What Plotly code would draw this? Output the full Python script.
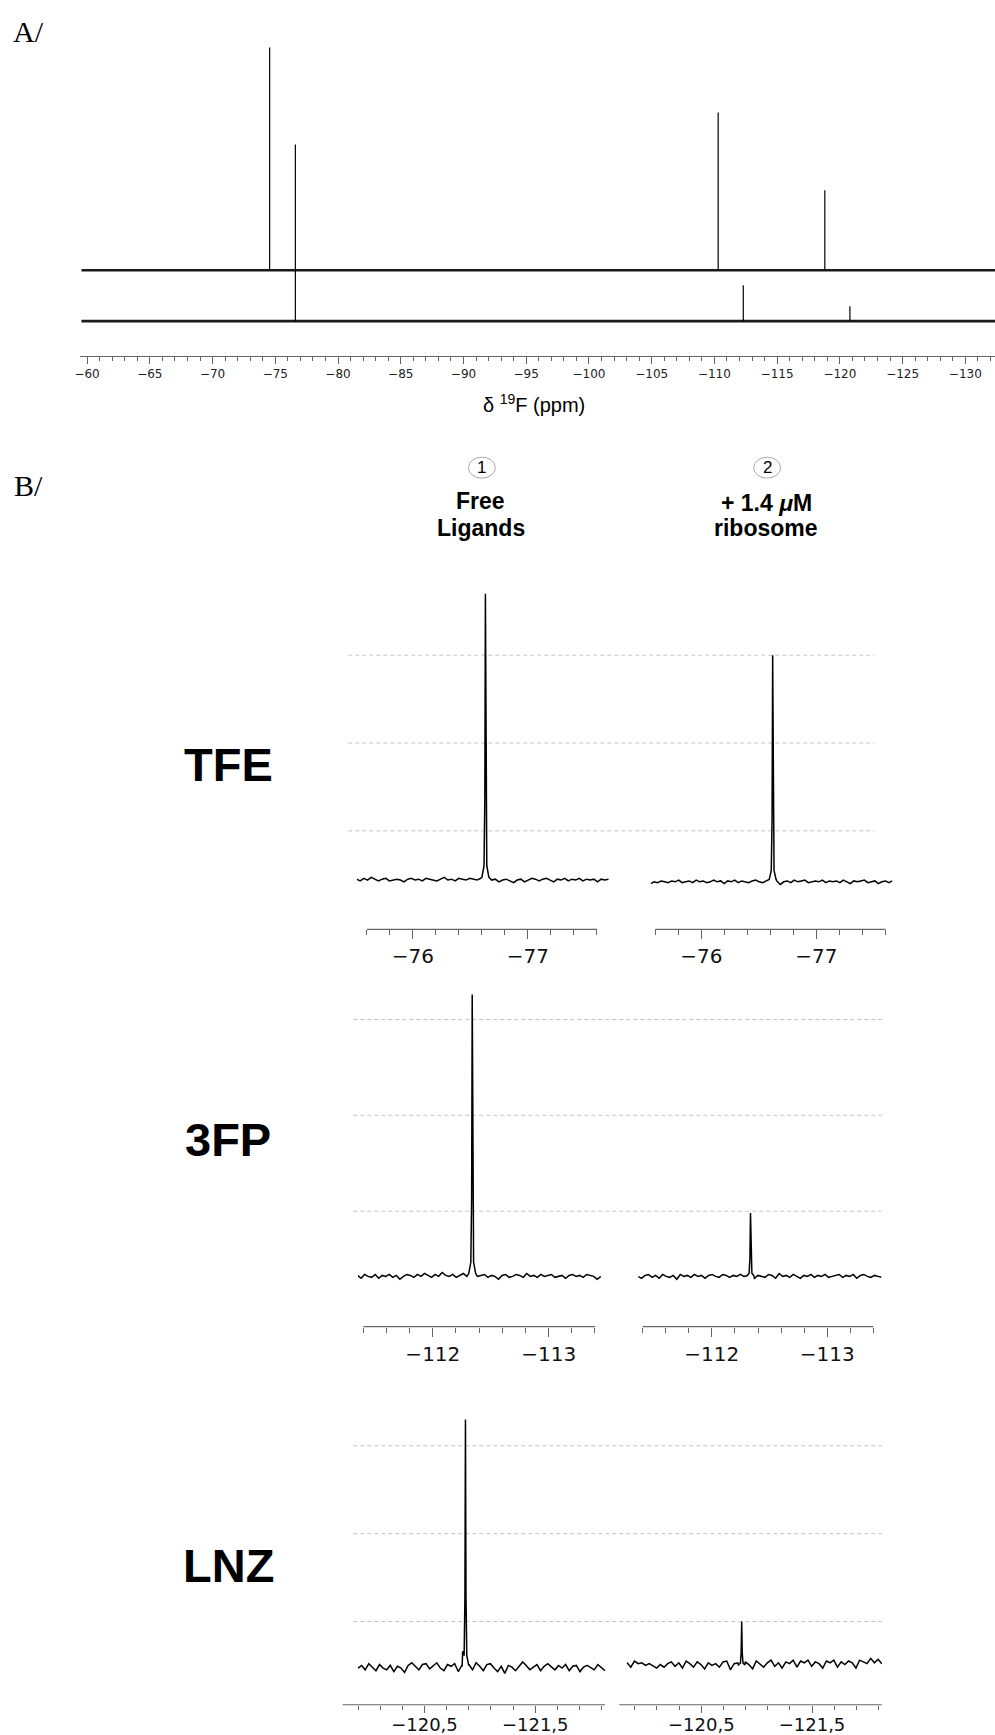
import numpy as np
import plotly.graph_objects as go

W, H = 995, 1735

# ======================= DATA =======================
# ---- Panel A: full 19F spectra (intensity in arbitrary units) ----
A_SPAN_PPM = [-59.55, -132.4]
A_TOP_BASE = 51
A_BOTTOM_BASE = 0
A_TOP_PEAK_PPM = [-74.55, -110.3, -118.8]
A_TOP_PEAK_INT = [223, 158, 80]
A_BOT_PEAK_PPM = [-76.6, -112.3, -120.8]
A_BOT_PEAK_INT = [177, 36, 15]
A_TICK_VALS = [-60, -65, -70, -75, -80, -85, -90, -95, -100, -105, -110, -115, -120, -125, -130]
A_TICK_TEXT = ["−60", "−65", "−70", "−75", "−80", "−85", "−90", "−95", "−100",
               "−105", "−110", "−115", "−120", "−125", "−130"]

# ---- Panel B: zoomed spectra, rows = ligands, cols = conditions ----
ROW_LABELS = ["TFE", "3FP", "LNZ"]
COL_NUMBERS = ["1", "2"]
COL_LINE1 = ["Free", "+ 1.4 <i>μ</i>M"]
COL_LINE2 = ["Ligands", "ribosome"]

PEAK_PPM = [[-76.63, -76.62], [-112.34, -112.335], [-120.87, -120.865]]
PEAK_INT = [[3.70, 3.00], [3.26, 0.98], [3.30, 1.00]]
BASE_INT = [[0.44, 0.42], [0.32, 0.32], [0.47, 0.50]]
SPAN_PPM = [[[-75.51, -77.70], [-75.56, -77.66]],
            [[-111.35, -113.45], [-111.36, -113.47]],
            [[-119.90, -122.13], [-119.83, -122.13]]]
SHOULDER_PPM = [[None, None], [None, None], [-120.845, None]]
SHOULDER_INT = [[None, None], [None, None], [0.66, None]]

TFE_TICKS = [-76, -77]
TFE_TICK_TEXT = ["−76", "−77"]
FP3_TICKS = [-112, -113]
FP3_TICK_TEXT = ["−112", "−113"]
LNZ_TICKS = [-120.5, -121.5]
LNZ_TICK_TEXT = ["−120,5", "−121,5"]
AXIS_SPAN_PPM = [[-75.6, -77.6], [-111.4, -113.4], [-119.76, -122.13]]
GRID_LEVELS = [1, 2, 3]

# line shape of a peak (offset in ppm, fraction of peak height)
SHAPE_DX = [-0.03, -0.012, -0.005, 0.0, 0.005, 0.012, 0.03]
SHAPE_FRAC = [0.01, 0.05, 0.28, 1.0, 0.28, 0.05, 0.01]

TFE_NOISE_FREE = [0.01, -0.01, 0.02, 0.00, 0.03, 0.01, -0.01, 0.01, 0.02, -0.01, 0.00, 0.01, 0.00, -0.02,
                  0.01, 0.02, 0.00, 0.01, -0.01, 0.02, 0.01, 0.00, -0.01, 0.01, 0.03, 0.00, 0.01, -0.01,
                  0.02, 0.01, 0.00, 0.02, 0.01, 0.00, 0.02, 0.01, -0.01, 0.00, 0.01, -0.02, 0.00, 0.01,
                  -0.01, -0.03, 0.00, 0.01, -0.02, 0.00, 0.02, 0.01, -0.01, 0.01, 0.02, 0.00, -0.02, 0.01,
                  0.00, 0.02, -0.01, 0.01, 0.00, 0.02, -0.01, 0.01, 0.00, 0.01, -0.02, 0.01, 0.00, 0.01]
TFE_NOISE_RIBO = [-0.02, 0.00, -0.01, 0.01, 0.00, -0.01, 0.01, 0.00, 0.02, -0.01, 0.00, 0.01, -0.01, 0.02,
                  0.00, 0.01, -0.01, 0.00, 0.02, 0.00, 0.01, -0.02, 0.01, 0.00, 0.02, -0.01, 0.01, 0.00,
                  -0.01, 0.01, 0.02, 0.00, -0.01, 0.01, 0.02, 0.00, 0.01, -0.03, 0.00, 0.01, -0.01, 0.02,
                  0.00, 0.01, 0.02, -0.01, 0.00, 0.01, 0.00, 0.02, -0.01, 0.01, 0.00, 0.01, -0.01, 0.02,
                  0.00, -0.02, 0.01, 0.00, 0.01, 0.02, -0.01, 0.00, 0.01, -0.02, 0.00, 0.01, -0.01, 0.01]
FP3_NOISE_FREE = [0.01, -0.02, 0.02, 0.00, -0.01, 0.02, -0.02, 0.01, 0.00, 0.02, -0.01, 0.01, -0.03, 0.00,
                  0.02, 0.01, -0.01, 0.02, 0.00, 0.03, 0.01, -0.01, 0.02, 0.00, 0.04, 0.01, 0.00, 0.02,
                  -0.01, 0.01, 0.03, 0.00, 0.02, -0.01, 0.00, 0.01, 0.02, -0.01, 0.01, 0.00, -0.03, 0.01,
                  0.02, -0.01, 0.00, 0.02, 0.01, -0.01, 0.03, 0.00, 0.01, -0.01, 0.02, 0.00, 0.01, 0.02,
                  -0.01, 0.00, 0.01, -0.02, 0.01, 0.02, 0.00, 0.01, -0.01, 0.02, 0.01, 0.00, -0.03, 0.00]
FP3_NOISE_RIBO = [0.00, -0.02, 0.01, 0.02, -0.01, 0.01, -0.02, 0.02, 0.00, -0.01, 0.01, -0.03, 0.02, 0.00,
                  0.01, -0.01, 0.02, 0.00, 0.01, -0.02, 0.01, 0.02, 0.00, -0.01, 0.02, 0.01, -0.01, 0.01,
                  0.00, 0.02, 0.00, -0.01, 0.02, -0.02, 0.01, 0.00, -0.01, 0.02, 0.01, -0.02, 0.03, 0.00,
                  0.01, -0.01, 0.02, 0.00, -0.02, 0.01, 0.00, 0.02, -0.01, 0.01, 0.00, 0.02, -0.01, 0.00,
                  0.01, 0.02, -0.01, 0.01, 0.00, 0.02, -0.02, 0.01, 0.02, 0.00, -0.01, 0.01, 0.00, -0.01]
LNZ_NOISE_FREE = [0.00, 0.03, -0.02, 0.05, 0.01, -0.03, 0.04, 0.00, -0.02, 0.03, -0.04, 0.02, 0.00, -0.05,
                  0.03, 0.06, 0.02, -0.02, 0.04, 0.05, -0.01, 0.03, 0.06, 0.00, -0.03, 0.04, 0.02, 0.05,
                  -0.04, 0.03, 0.01, 0.04, -0.02, 0.06, 0.02, -0.03, 0.04, 0.05, 0.00, -0.04, 0.02, -0.06,
                  0.03, 0.01, -0.03, 0.02, 0.07, 0.03, -0.02, 0.01, 0.04, -0.03, 0.02, 0.05, 0.01, -0.02,
                  0.03, 0.00, 0.04, -0.03, 0.02, 0.03, -0.04, 0.01, 0.03, 0.00, -0.02, 0.04, 0.01, -0.03]
LNZ_NOISE_RIBO = [0.03, -0.02, 0.05, 0.02, 0.03, 0.00, 0.02, -0.01, -0.03, 0.01, -0.02, 0.02, 0.04, -0.01,
                  0.03, -0.03, 0.05, 0.02, -0.02, 0.04, 0.01, -0.04, 0.03, 0.00, 0.02, -0.02, 0.04, 0.05,
                  -0.05, 0.02, 0.03, -0.03, 0.04, 0.01, -0.04, 0.05, 0.02, -0.02, 0.03, 0.06, -0.01, 0.03,
                  -0.03, 0.04, 0.02, 0.06, -0.02, 0.05, 0.03, 0.06, -0.01, 0.04, 0.02, -0.03, 0.05, 0.03,
                  0.06, -0.02, 0.04, 0.01, 0.05, 0.03, -0.03, 0.06, 0.04, 0.02, 0.08, 0.03, 0.07, 0.02]
NOISE = [[TFE_NOISE_FREE, TFE_NOISE_RIBO], [FP3_NOISE_FREE, FP3_NOISE_RIBO], [LNZ_NOISE_FREE, LNZ_NOISE_RIBO]]
ROW_TICKS = [(TFE_TICKS, TFE_TICK_TEXT), (FP3_TICKS, FP3_TICK_TEXT), (LNZ_TICKS, LNZ_TICK_TEXT)]

# ======================= GEOMETRY (pixels) =======================
# per panel: anchor tick ppm, its x pixel, pixels per ppm, domain left px, domain right px
PANEL_GEOM = [[(-76, 410.0, 115.6, 353.6, 607.0), (-76, 699.8, 115.7, 649.0, 892.0)],
              [(-112, 430.0, 116.4, 354.7, 599.0), (-112, 710.4, 116.0, 636.5, 881.0)],
              [(-120.5, 421.6, 111.3, 339.0, 603.5), (-120.5, 699.8, 111.3, 617.0, 881.6)]]
# per row: y px of grid level 1, px per unit, x-axis px, top px, grid x0, grid x1,
#          tick font size, major tick length, minor tick length, label standoff
ROW_GEOM = [(832.3, 88.0, 931.0, 570.0, 345.0, 874.0, 20, 9, 5, 0),
            (1213.3, 96.0, 1329.0, 985.0, 350.0, 881.0, 20, 9, 5, 0),
            (1624.3, 88.0, 1707.7, 1410.0, 350.0, 881.0, 18, 7, 4, -3)]
ROW_LABEL_Y = [766, 1141, 1568]
COL_X = [479.3, 766.0]


def fx(x):
    return x / W


def fy(y):
    return 1 - y / H


fig = go.Figure()
AX_COLOR = "#666666"

# ---------------- Panel A ----------------
A_LEFT_PX, A_REF_PX, A_PX_PER_PPM = 75.0, 82.5, 12.61
A_AXIS_PX, A_TOP_PX, A_BOTBASE_PX = 356.7, 25.0, 321.7
a_range = [-60 + (A_REF_PX - A_LEFT_PX) / A_PX_PER_PPM, -60 - (W - A_REF_PX) / A_PX_PER_PPM]
a_yrange = [-(A_AXIS_PX - A_BOTBASE_PX), A_BOTBASE_PX - A_TOP_PX]

for base in (A_TOP_BASE, A_BOTTOM_BASE):
    fig.add_trace(go.Scatter(x=A_SPAN_PPM, y=[base, base], mode="lines",
                             line=dict(color="#1a1a1a", width=2.6),
                             xaxis="x", yaxis="y", showlegend=False, hoverinfo="skip"))
for base, pp, pi in ((A_TOP_BASE, A_TOP_PEAK_PPM, A_TOP_PEAK_INT),
                     (A_BOTTOM_BASE, A_BOT_PEAK_PPM, A_BOT_PEAK_INT)):
    xs, ys = [], []
    for p, h in zip(pp, pi):
        xs += [p, p, None]
        ys += [base, base + h, None]
    fig.add_trace(go.Scatter(x=xs, y=ys, mode="lines", line=dict(color="black", width=1.2),
                             xaxis="x", yaxis="y", showlegend=False, hoverinfo="skip"))

layout = dict(
    width=W, height=H, autosize=False,
    margin=dict(l=0, r=0, t=0, b=0),
    paper_bgcolor="white", plot_bgcolor="white",
    showlegend=False,
    xaxis=dict(domain=[fx(A_LEFT_PX), 1.0], range=a_range, anchor="y",
               showgrid=False, zeroline=False, showline=True, linecolor=AX_COLOR, linewidth=1,
               tickmode="array", tickvals=A_TICK_VALS, ticktext=A_TICK_TEXT,
               ticks="outside", ticklen=7, tickcolor=AX_COLOR, tickwidth=1,
               tickfont=dict(family="DejaVu Sans", size=12, color="#222222"),
               minor=dict(tickmode="linear", tick0=0, dtick=1, ticks="outside", ticklen=4,
                          tickcolor=AX_COLOR, tickwidth=1, showgrid=False)),
    yaxis=dict(domain=[fy(A_AXIS_PX), fy(A_TOP_PX)], range=a_yrange, anchor="x", visible=False),
)

shapes = []
annotations = []

# ---------------- Panel B ----------------
for r in range(3):
    g1, unit, axis_px, top_px, gx0, gx1, tfs, tlen, mlen, stand = ROW_GEOM[r]
    yr = [1 - (axis_px - g1) / unit, 1 + (g1 - top_px) / unit]
    ydom = [fy(axis_px), fy(top_px)]
    tvals, ttext = ROW_TICKS[r]
    for c in range(2):
        k = 2 + 2 * r + c
        a_ppm, a_px, s, dl, dr = PANEL_GEOM[r][c]
        xr = [a_ppm + (a_px - dl) / s, a_ppm - (dr - a_px) / s]

        noise = NOISE[r][c]
        x0, x1 = SPAN_PPM[r][c]
        p, h, b = PEAK_PPM[r][c], PEAK_INT[r][c], BASE_INT[r][c]
        xs_noise = np.linspace(x0, x1, len(noise))
        pts = [(float(x), b + n) for x, n in zip(xs_noise, noise) if abs(x - p) > 0.03]
        pts += [(p + dx, b + f * (h - b)) for dx, f in zip(SHAPE_DX, SHAPE_FRAC)]
        if SHOULDER_PPM[r][c] is not None:
            pts.append((SHOULDER_PPM[r][c], SHOULDER_INT[r][c]))
        pts.sort(key=lambda t: -t[0])
        fig.add_trace(go.Scatter(x=[q[0] for q in pts], y=[q[1] for q in pts], mode="lines",
                                 line=dict(color="black", width=1.5),
                                 xaxis=f"x{k}", yaxis=f"y{k}", showlegend=False, hoverinfo="skip"))

        layout[f"xaxis{k}"] = dict(
            domain=[fx(dl), fx(dr)], range=xr, anchor=f"y{k}",
            showgrid=False, zeroline=False, showline=False,
            tickmode="array", tickvals=tvals, ticktext=ttext,
            ticks="outside", ticklen=tlen, tickcolor=AX_COLOR, tickwidth=1,
            ticklabelstandoff=stand,
            tickfont=dict(family="DejaVu Sans", size=tfs, color="#111111"),
            minor=dict(tickmode="linear", tick0=tvals[0], dtick=0.2, ticks="outside", ticklen=mlen,
                       tickcolor=AX_COLOR, tickwidth=1, showgrid=False))
        layout[f"yaxis{k}"] = dict(domain=ydom, range=yr, anchor=f"x{k}", visible=False)

        # axis line only over the ticked span
        sx0, sx1 = AXIS_SPAN_PPM[r]
        shapes.append(dict(type="line", xref=f"x{k}", yref=f"y{k} domain", x0=sx0, x1=sx1,
                           y0=0, y1=0, line=dict(color=AX_COLOR, width=1.2), layer="above"))

    # dashed horizontal grid spanning both columns
    kl = 2 + 2 * r
    for lv in GRID_LEVELS:
        shapes.append(dict(type="line", xref="paper", yref=f"y{kl}", x0=fx(gx0), x1=fx(gx1),
                           y0=lv, y1=lv, line=dict(color="#c4c4c4", width=1, dash="4px,3px"),
                           layer="below"))
    annotations.append(dict(text="<b>" + ROW_LABELS[r] + "</b>", x=fx(224.5), y=fy(ROW_LABEL_Y[r]),
                            xref="paper", yref="paper", showarrow=False,
                            xanchor="center", yanchor="middle",
                            font=dict(family="Liberation Sans", size=47, color="black")))

# column headers
for c in range(2):
    cx = COL_X[c]
    shapes.append(dict(type="circle", xref="paper", yref="paper",
                       x0=fx(cx - 13.5), x1=fx(cx + 13.5), y0=fy(479), y1=fy(458),
                       line=dict(color="#a8a8a8", width=1)))
    annotations.append(dict(text=COL_NUMBERS[c], x=fx(cx), y=fy(468.5), xref="paper", yref="paper",
                            showarrow=False, xanchor="center", yanchor="middle",
                            font=dict(family="Liberation Sans", size=17, color="black")))
    annotations.append(dict(text="<b>" + COL_LINE1[c] + "</b>", x=fx(cx - 1), y=fy(502 if c == 0 else 504),
                            xref="paper", yref="paper", showarrow=False,
                            xanchor="center", yanchor="middle",
                            font=dict(family="Liberation Sans", size=23, color="black")))
    annotations.append(dict(text="<b>" + COL_LINE2[c] + "</b>", x=fx(cx - 1), y=fy(529),
                            xref="paper", yref="paper", showarrow=False,
                            xanchor="center", yanchor="middle",
                            font=dict(family="Liberation Sans", size=23, color="black")))

# panel letters and A axis title
annotations.append(dict(text="A/", x=fx(6), y=fy(32), xref="paper", yref="paper", showarrow=False,
                        xanchor="left", yanchor="middle",
                        font=dict(family="Liberation Serif", size=30, color="black")))
annotations.append(dict(text="B/", x=fx(7), y=fy(486), xref="paper", yref="paper", showarrow=False,
                        xanchor="left", yanchor="middle",
                        font=dict(family="Liberation Serif", size=30, color="black")))
annotations.append(dict(text="δ <sup>19</sup>F (ppm)", x=fx(532), y=fy(404), xref="paper", yref="paper",
                        showarrow=False, xanchor="center", yanchor="middle",
                        font=dict(family="Liberation Sans", size=20, color="black")))

layout["shapes"] = shapes
layout["annotations"] = annotations
fig.update_layout(**layout)
fig.write_html("out.html", config=dict(displayModeBar=False, staticPlot=True),
               post_script="document.body.style.margin='0';document.body.style.overflow='hidden';")
